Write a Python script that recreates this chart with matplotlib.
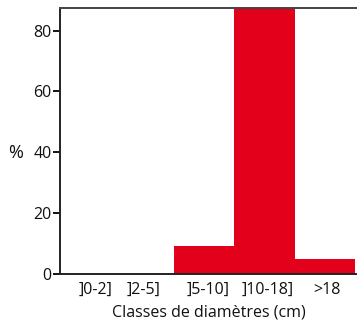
import matplotlib
matplotlib.use("Agg")
import matplotlib.pyplot as plt

categories = ["]0-2]", "]2-5]", "]5-10]", "]10-18]", ">18"]
values = [0, 0, 9, 87.5, 5]
tick_offsets = [0.18, -0.02, 0.06, 0.05, 0.04]

plt.rcParams['font.family'] = ['Open Sans', 'DejaVu Sans']

fig = plt.figure(figsize=(3.57, 3.23), dpi=100)
ax = fig.add_axes([0.168, 0.1526, 0.832, 0.8224])

idx = list(range(len(categories)))
ax.bar(idx, values, width=1.0, color="#E2001A", edgecolor="none")
ax.set_xlim(-0.405, 4.54)
ax.set_ylim(0, 87.4)
ax.set_yticks([0, 20, 40, 60, 80])
ax.set_xticks([i + o for i, o in zip(idx, tick_offsets)])
ax.set_xticklabels(categories)
ax.tick_params(axis='x', length=0, pad=6, labelsize=11.5, labelcolor='#111111')
ax.tick_params(axis='y', direction='out', length=5, width=1.3, pad=1, labelsize=11.5, labelcolor='#111111')
for s in ['left', 'bottom']:
    ax.spines[s].set_linewidth(1.4)
    ax.spines[s].set_color('#222222')
ax.spines['top'].set_linewidth(1.4)
ax.spines['top'].set_color('#444444')
ax.spines['right'].set_visible(False)
ax.set_xlabel("Classes de diamètres (cm)", fontsize=11.5, labelpad=5, color='#111111')
ax.set_ylabel("%", rotation=0, fontsize=13, color='#111111', va='center', ha='center')
ax.yaxis.set_label_coords(-0.148, 0.455)

fig.savefig("out.png", dpi=100)
